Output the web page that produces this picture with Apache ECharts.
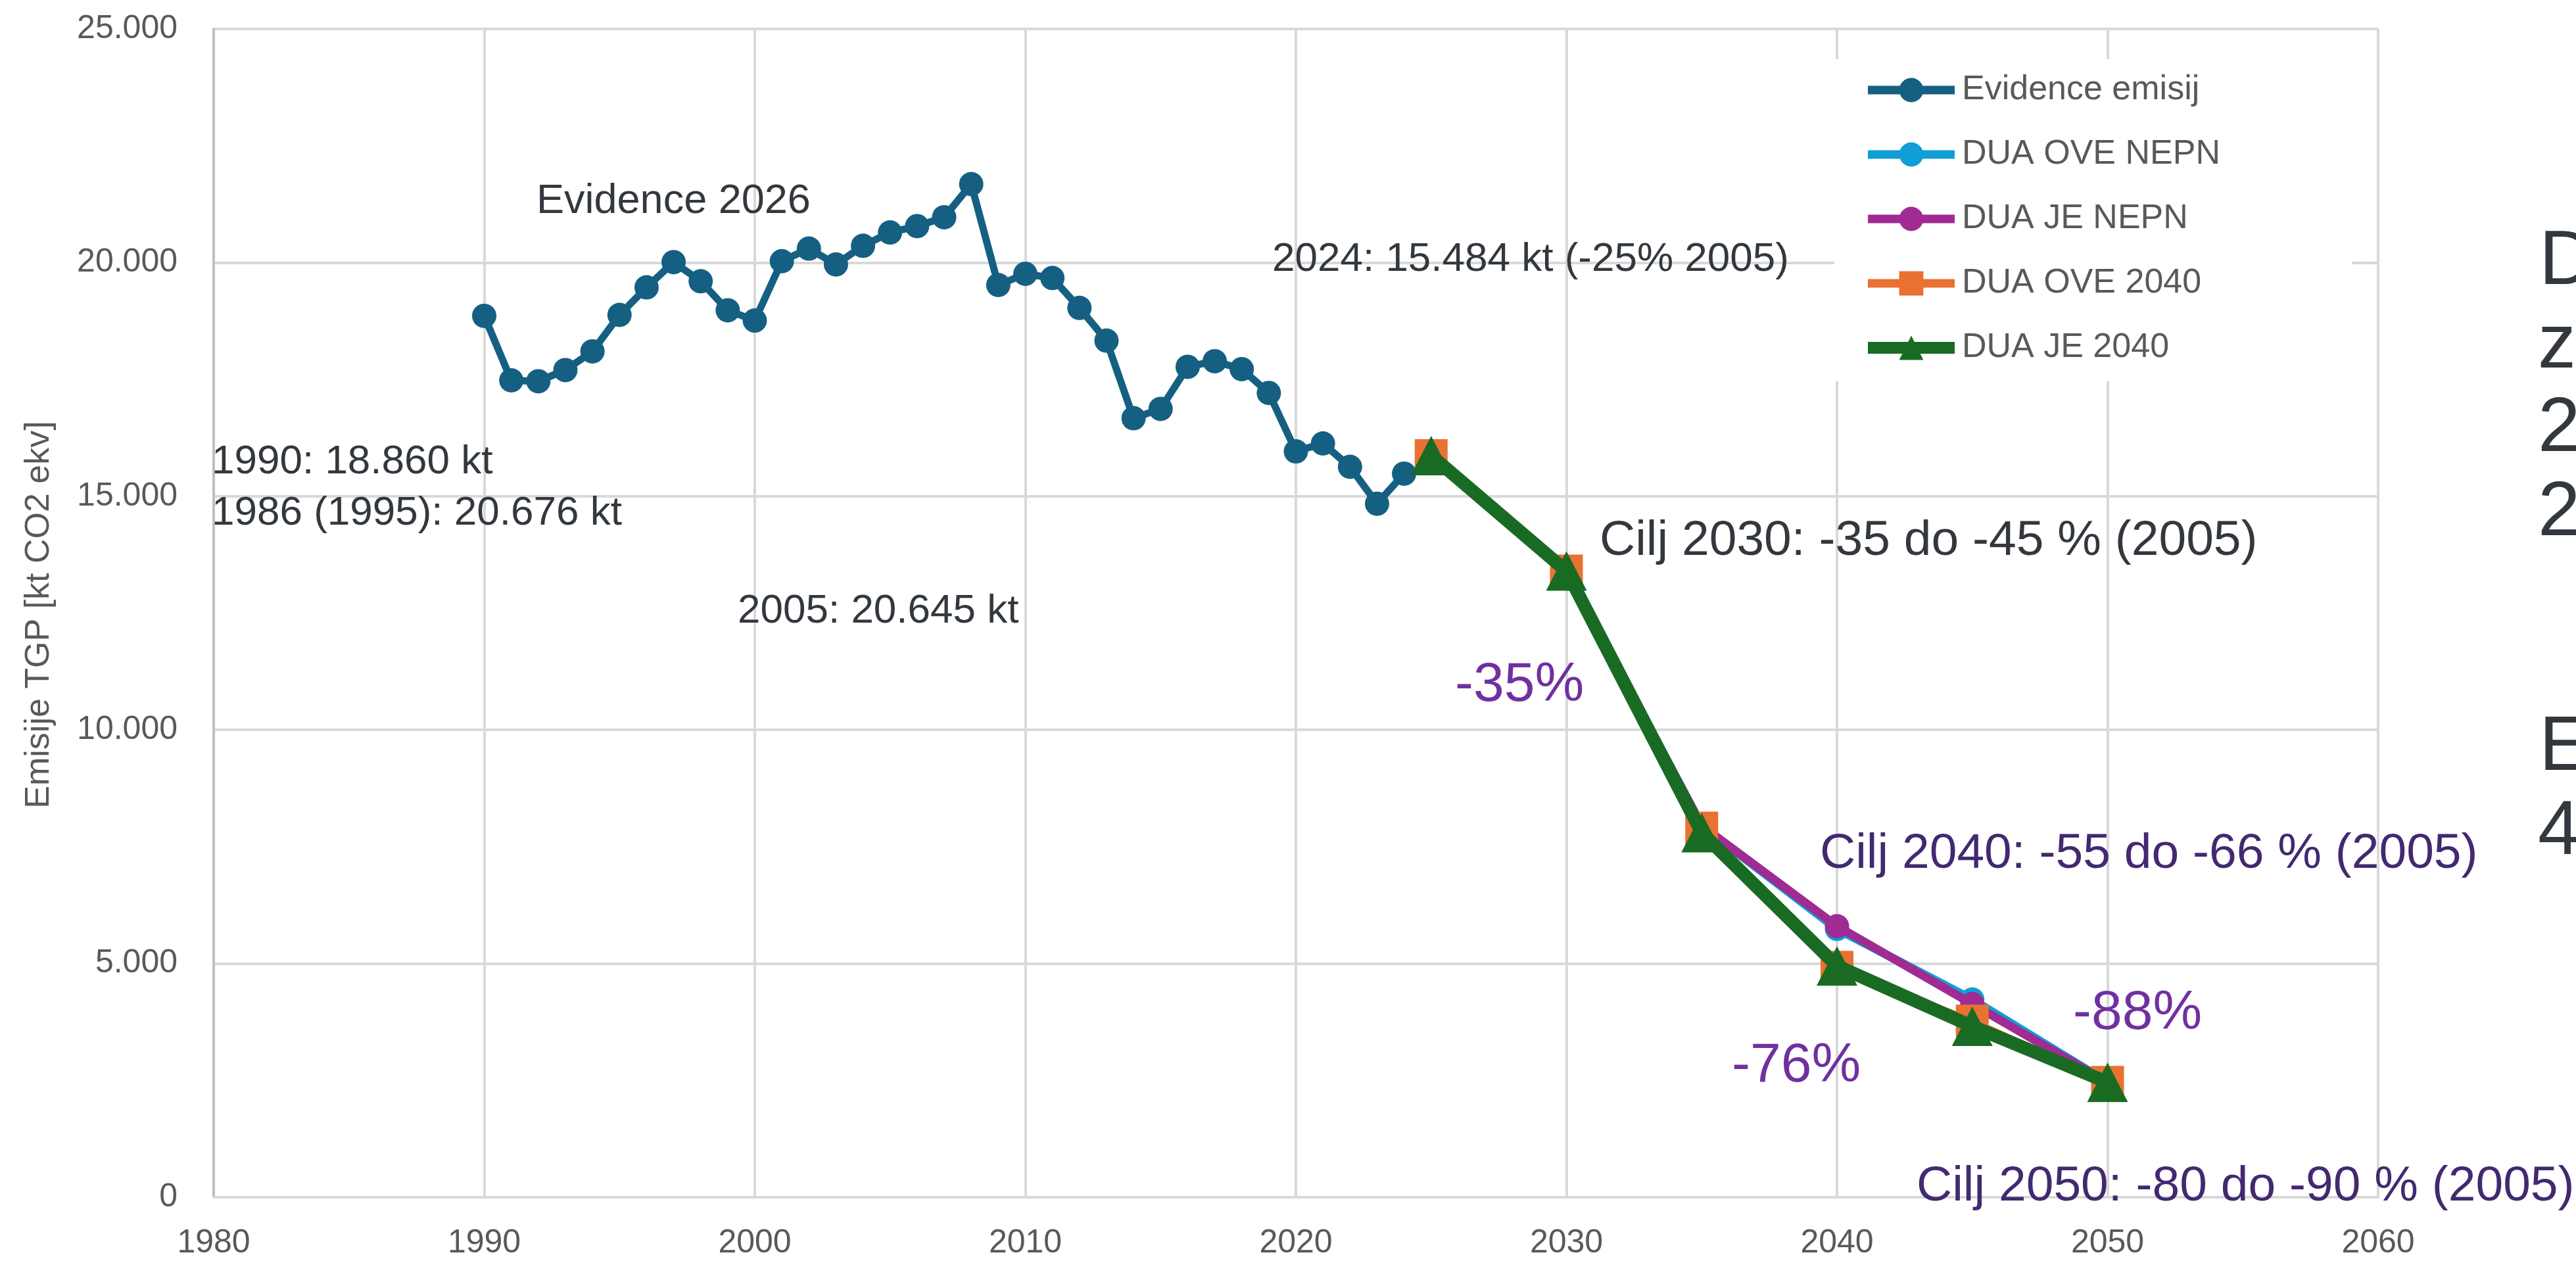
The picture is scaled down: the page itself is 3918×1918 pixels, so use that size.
<!DOCTYPE html>
<html>
<head>
<meta charset="utf-8">
<script src="https://cdn.jsdelivr.net/npm/echarts@6/dist/echarts.min.js"></script>
<style>
html,body{margin:0;padding:0;background:#fff;}
#chart{width:3918px;height:1918px;}
</style>
</head>
<body>
<div id="chart"></div>
<script>
// ---- data ----
const evidenceYears = [1990,1991,1992,1993,1994,1995,1996,1997,1998,1999,2000,2001,2002,2003,2004,2005,2006,2007,2008,2009,2010,2011,2012,2013,2014,2015,2016,2017,2018,2019,2020,2021,2022,2023,2024];
const evidenceValues = [18860,17480,17460,17700,18100,18880,19470,20010,19600,18980,18760,20030,20300,19960,20360,20645,20780,20970,21680,19520,19760,19670,19030,18330,16670,16870,17770,17890,17720,17210,15960,16130,15630,14840,15484];
const scenarioYears = [2025,2030,2035,2040,2045,2050];
const oveNepn = [15870,13400,7950,5740,4230,2460];
const jeNepn = [15870,13400,7950,5800,4135,2460];
const ove2040 = [15870,13400,7900,4920,3770,2460];
const je2040 = [15870,13400,7800,4950,3657,2460];
const seriesNames = ['Evidence emisij','DUA OVE NEPN','DUA JE NEPN','DUA OVE 2040','DUA JE 2040'];

const pairs = (xs, ys) => xs.map((x, i) => [x, ys[i]]);
const FONT = 'Liberation Sans, Arial, sans-serif';
const fmt = v => v === 0 ? '0' : String(v).replace(/\B(?=(\d{3})+(?!\d))/g, '.');

const chart = echarts.init(document.getElementById('chart'));

function txt(text, x, y, size, color, extra) {
  return Object.assign({
    type: 'text', x: x, y: y, z: 100,
    style: { text: text, fontSize: size, fontFamily: FONT, fill: color, align: 'left', verticalAlign: 'middle' }
  }, extra || {});
}

const dark = '#32383e';
const purple = '#7030a0';
const darkPurple = '#422970';

chart.setOption({
  backgroundColor: '#ffffff',
  animation: false,
  grid: { left: 325, right: 301, top: 44, bottom: 97, containLabel: false },
  xAxis: {
    type: 'value', min: 1980, max: 2060, interval: 10,
    axisLine: { show: true, lineStyle: { color: '#d9d9d9', width: 4 } },
    axisTick: { show: false },
    axisLabel: { fontSize: 50, fontFamily: FONT, color: '#595959', margin: 45, formatter: v => String(v) },
    splitLine: { show: true, lineStyle: { color: '#d9d9d9', width: 4 } }
  },
  yAxis: {
    type: 'value', min: 0, max: 25000, interval: 5000,
    axisLine: { show: true, lineStyle: { color: '#bfbfbf', width: 4 } },
    axisTick: { show: false },
    axisLabel: { fontSize: 50, fontFamily: FONT, color: '#595959', margin: 55, formatter: fmt },
    splitLine: { show: true, lineStyle: { color: '#d9d9d9', width: 4 } }
  },
  legend: {
    orient: 'vertical',
    left: 2790, top: 90,
    padding: [21, 200, 25, 42],
    backgroundColor: '#ffffff',
    itemWidth: 132, itemHeight: 46, itemGap: 46,
    textStyle: { fontSize: 52, fontFamily: FONT, color: '#595959', lineHeight: 50, padding: [0,0,0,6] },
    data: [
      { name: seriesNames[0], lineStyle: { width: 13 } },
      { name: seriesNames[1], lineStyle: { width: 13 } },
      { name: seriesNames[2], lineStyle: { width: 13 } },
      { name: seriesNames[3], lineStyle: { width: 13 } },
      { name: seriesNames[4], lineStyle: { width: 18 } }
    ]
  },
  series: [
    {
      name: seriesNames[0], type: 'line', data: pairs(evidenceYears, evidenceValues),
      symbol: 'circle', symbolSize: 37,
      lineStyle: { color: '#156082', width: 11 }, itemStyle: { color: '#156082' }, z: 2
    },
    {
      name: seriesNames[1], type: 'line', data: pairs(scenarioYears, oveNepn),
      symbol: 'circle', symbolSize: 37,
      lineStyle: { color: '#0f9ed5', width: 13 }, itemStyle: { color: '#0f9ed5' }, z: 3
    },
    {
      name: seriesNames[2], type: 'line', data: pairs(scenarioYears, jeNepn),
      symbol: 'circle', symbolSize: 37,
      lineStyle: { color: '#a02b93', width: 13 }, itemStyle: { color: '#a02b93' }, z: 4
    },
    {
      name: seriesNames[3], type: 'line', data: pairs(scenarioYears, ove2040),
      symbol: 'rect', symbolSize: 50,
      lineStyle: { color: '#e97132', width: 10 }, itemStyle: { color: '#e97132' }, z: 5
    },
    {
      name: seriesNames[4], type: 'line', data: pairs(scenarioYears, je2040),
      symbol: 'triangle', symbolSize: [62, 60],
      lineStyle: { color: '#196b24', width: 20 }, itemStyle: { color: '#196b24' }, z: 6
    }
  ],
  graphic: [
    txt('Emisije TGP [kt CO2 ekv]', 60, 935, 52, '#595959', { rotation: Math.PI / 2, style: { text: 'Emisije TGP [kt CO2 ekv]', fontSize: 52, fontFamily: FONT, fill: '#595959', align: 'center', verticalAlign: 'middle' } }),
    txt('Evidence 2026', 816, 307, 63, dark),
    txt('2024: 15.484 kt (-25% 2005)', 1935, 395, 62, dark),
    txt('1990: 18.860 kt', 322, 703, 62, dark),
    txt('1986 (1995): 20.676 kt', 322, 781, 62, dark),
    txt('2005: 20.645 kt', 1122, 930, 62, dark),
    txt('Cilj 2030: -35 do -45 % (2005)', 2433, 823, 75, dark),
    txt('-35%', 2213, 1043, 84, purple),
    txt('Cilj 2040: -55 do -66 % (2005)', 2768, 1299, 75, darkPurple),
    txt('-76%', 2634, 1622, 84, purple),
    txt('-88%', 3153, 1542, 84, purple),
    txt('Cilj 2050: -80 do -90 % (2005)', 2915, 1805, 75, darkPurple),
    txt('D', 3862, 400, 116, dark),
    txt('z', 3860, 527, 116, dark),
    txt('2', 3860, 654, 116, dark),
    txt('2', 3860, 782, 116, dark),
    txt('E', 3862, 1139, 116, dark),
    txt('4', 3860, 1267, 116, dark)
  ]
});
</script>
</body>
</html>
